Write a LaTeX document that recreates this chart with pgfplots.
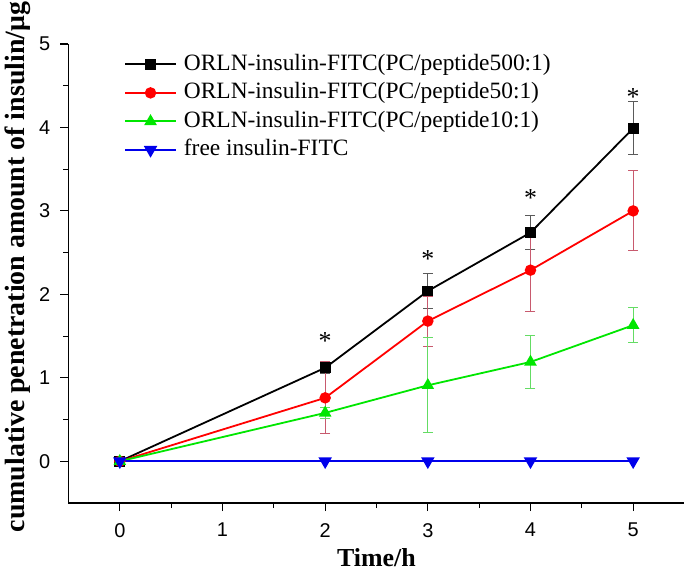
\documentclass[border=0pt]{standalone}
\usepackage{pgfplots}
\pgfplotsset{compat=1.18}
\usepackage{fontspec}
\setmainfont{Liberation Serif}
\setsansfont{Liberation Sans}
\definecolor{cgreen}{RGB}{0,230,0}
\definecolor{cblue}{RGB}{0,0,235}
\definecolor{cred}{RGB}{255,0,0}
\definecolor{egray}{RGB}{90,90,90}
\definecolor{ered}{RGB}{200,90,110}
\definecolor{egreen}{RGB}{100,220,100}
\begin{document}
\begin{tikzpicture}
\useasboundingbox (-68.5bp,-71bp) rectangle (616.5bp,503bp);
\begin{axis}[
  at={(0,0)}, anchor=south west,
  scale only axis, width=616bp, height=459bp,
  xmin=-0.5, xmax=5.5, ymin=-0.5, ymax=5,
  axis x line*=bottom, axis y line*=left,
  axis line style={line width=1.3bp, -},
  xtick={0,1,2,3,4,5}, ytick={0,1,2,3,4,5},
  minor x tick num=1, minor y tick num=1,
  tick align=outside,
  major tick length=8bp, minor tick length=5bp,
  tick style={line width=1.1bp, black},
  /pgf/number format/assume math mode=true,
  ticklabel style={font=\fontsize{20}{20}\selectfont\sffamily, inner sep=0pt},
  xticklabel style={yshift=-12bp},
  yticklabel style={xshift=-10bp},
  xlabel={Time/h},
  ylabel={cumulative penetration amount of insulin/μg},
  xlabel style={font=\fontsize{26}{26}\selectfont\bfseries, at={(axis description cs:0.5,-0.139)}, anchor=base},
  ylabel style={font=\fontsize{28}{28}\selectfont\bfseries, at={(axis description cs:-0.072,0.514)}, anchor=base},
  legend cell align=left,
  legend style={at={(axis description cs:0.090,0.980)}, anchor=north west,
    draw=none, fill=none, inner sep=0pt, column sep=7bp, row sep=6.5bp,
    font=\fontsize{23.5}{23.5}\selectfont,
    nodes={inner sep=0pt, text height=17bp, text depth=5bp}},
  legend image code/.code={\draw[mark repeat=2,mark phase=2] plot coordinates {(0bp,0bp) (25.5bp,0bp) (51bp,0bp)};},
  every axis plot/.append style={line width=1.8bp},
]
\addplot[black, mark=square*, mark size=4.5bp, mark options={solid},
  error bars/.cd, y dir=both, y explicit,
  error bar style={egray, line width=1bp},
  error mark options={rotate=90, egray, mark size=5bp, line width=1bp}]
  coordinates {(0,0) +- (0,0) (2,1.12) +- (0,0.07) (3,2.04) +- (0,0.215) (4,2.74) +- (0,0.20) (5,3.99) +- (0,0.32)};
\addlegendentry{ORLN-insulin-FITC(PC/peptide500:1)}
\addplot[cred, mark=*, mark size=4.8bp,
  error bars/.cd, y dir=both, y explicit,
  error bar style={ered, line width=1bp},
  error mark options={rotate=90, ered, mark size=5bp, line width=1bp}]
  coordinates {(0,0) +- (0,0) (2,0.76) +- (0,0.43) (3,1.68) +- (0,0.30) (4,2.29) +- (0,0.49) (5,3.00) +- (0,0.48)};
\addlegendentry{ORLN-insulin-FITC(PC/peptide50:1)}
\addplot[cgreen, mark=triangle*, mark size=5.5bp,
  error bars/.cd, y dir=both, y explicit,
  error bar style={egreen, line width=1bp},
  error mark options={rotate=90, egreen, mark size=5bp, line width=1bp}]
  coordinates {(0,0) +- (0,0) (2,0.58) +- (0,0.07) (3,0.91) +- (0,0.57) (4,1.19) +- (0,0.32) (5,1.63) +- (0,0.21)};
\addlegendentry{ORLN-insulin-FITC(PC/peptide10:1)}
\addplot[cblue, mark=triangle*, mark size=6bp, mark options={rotate=180}]
  coordinates {(0,0) (2,0) (3,0) (4,0) (5,0)};
\addlegendentry{free insulin-FITC}
\addplot[draw=none, mark=none, forget plot,
  nodes near coords={\fontsize{26}{26}\selectfont *},
  every node near coord/.append style={anchor=north, inner sep=0pt, text=black}]
  coordinates {(2,1.55) (3,2.53) (4,3.27) (5,4.48)};
\end{axis}
\end{tikzpicture}
\end{document}
